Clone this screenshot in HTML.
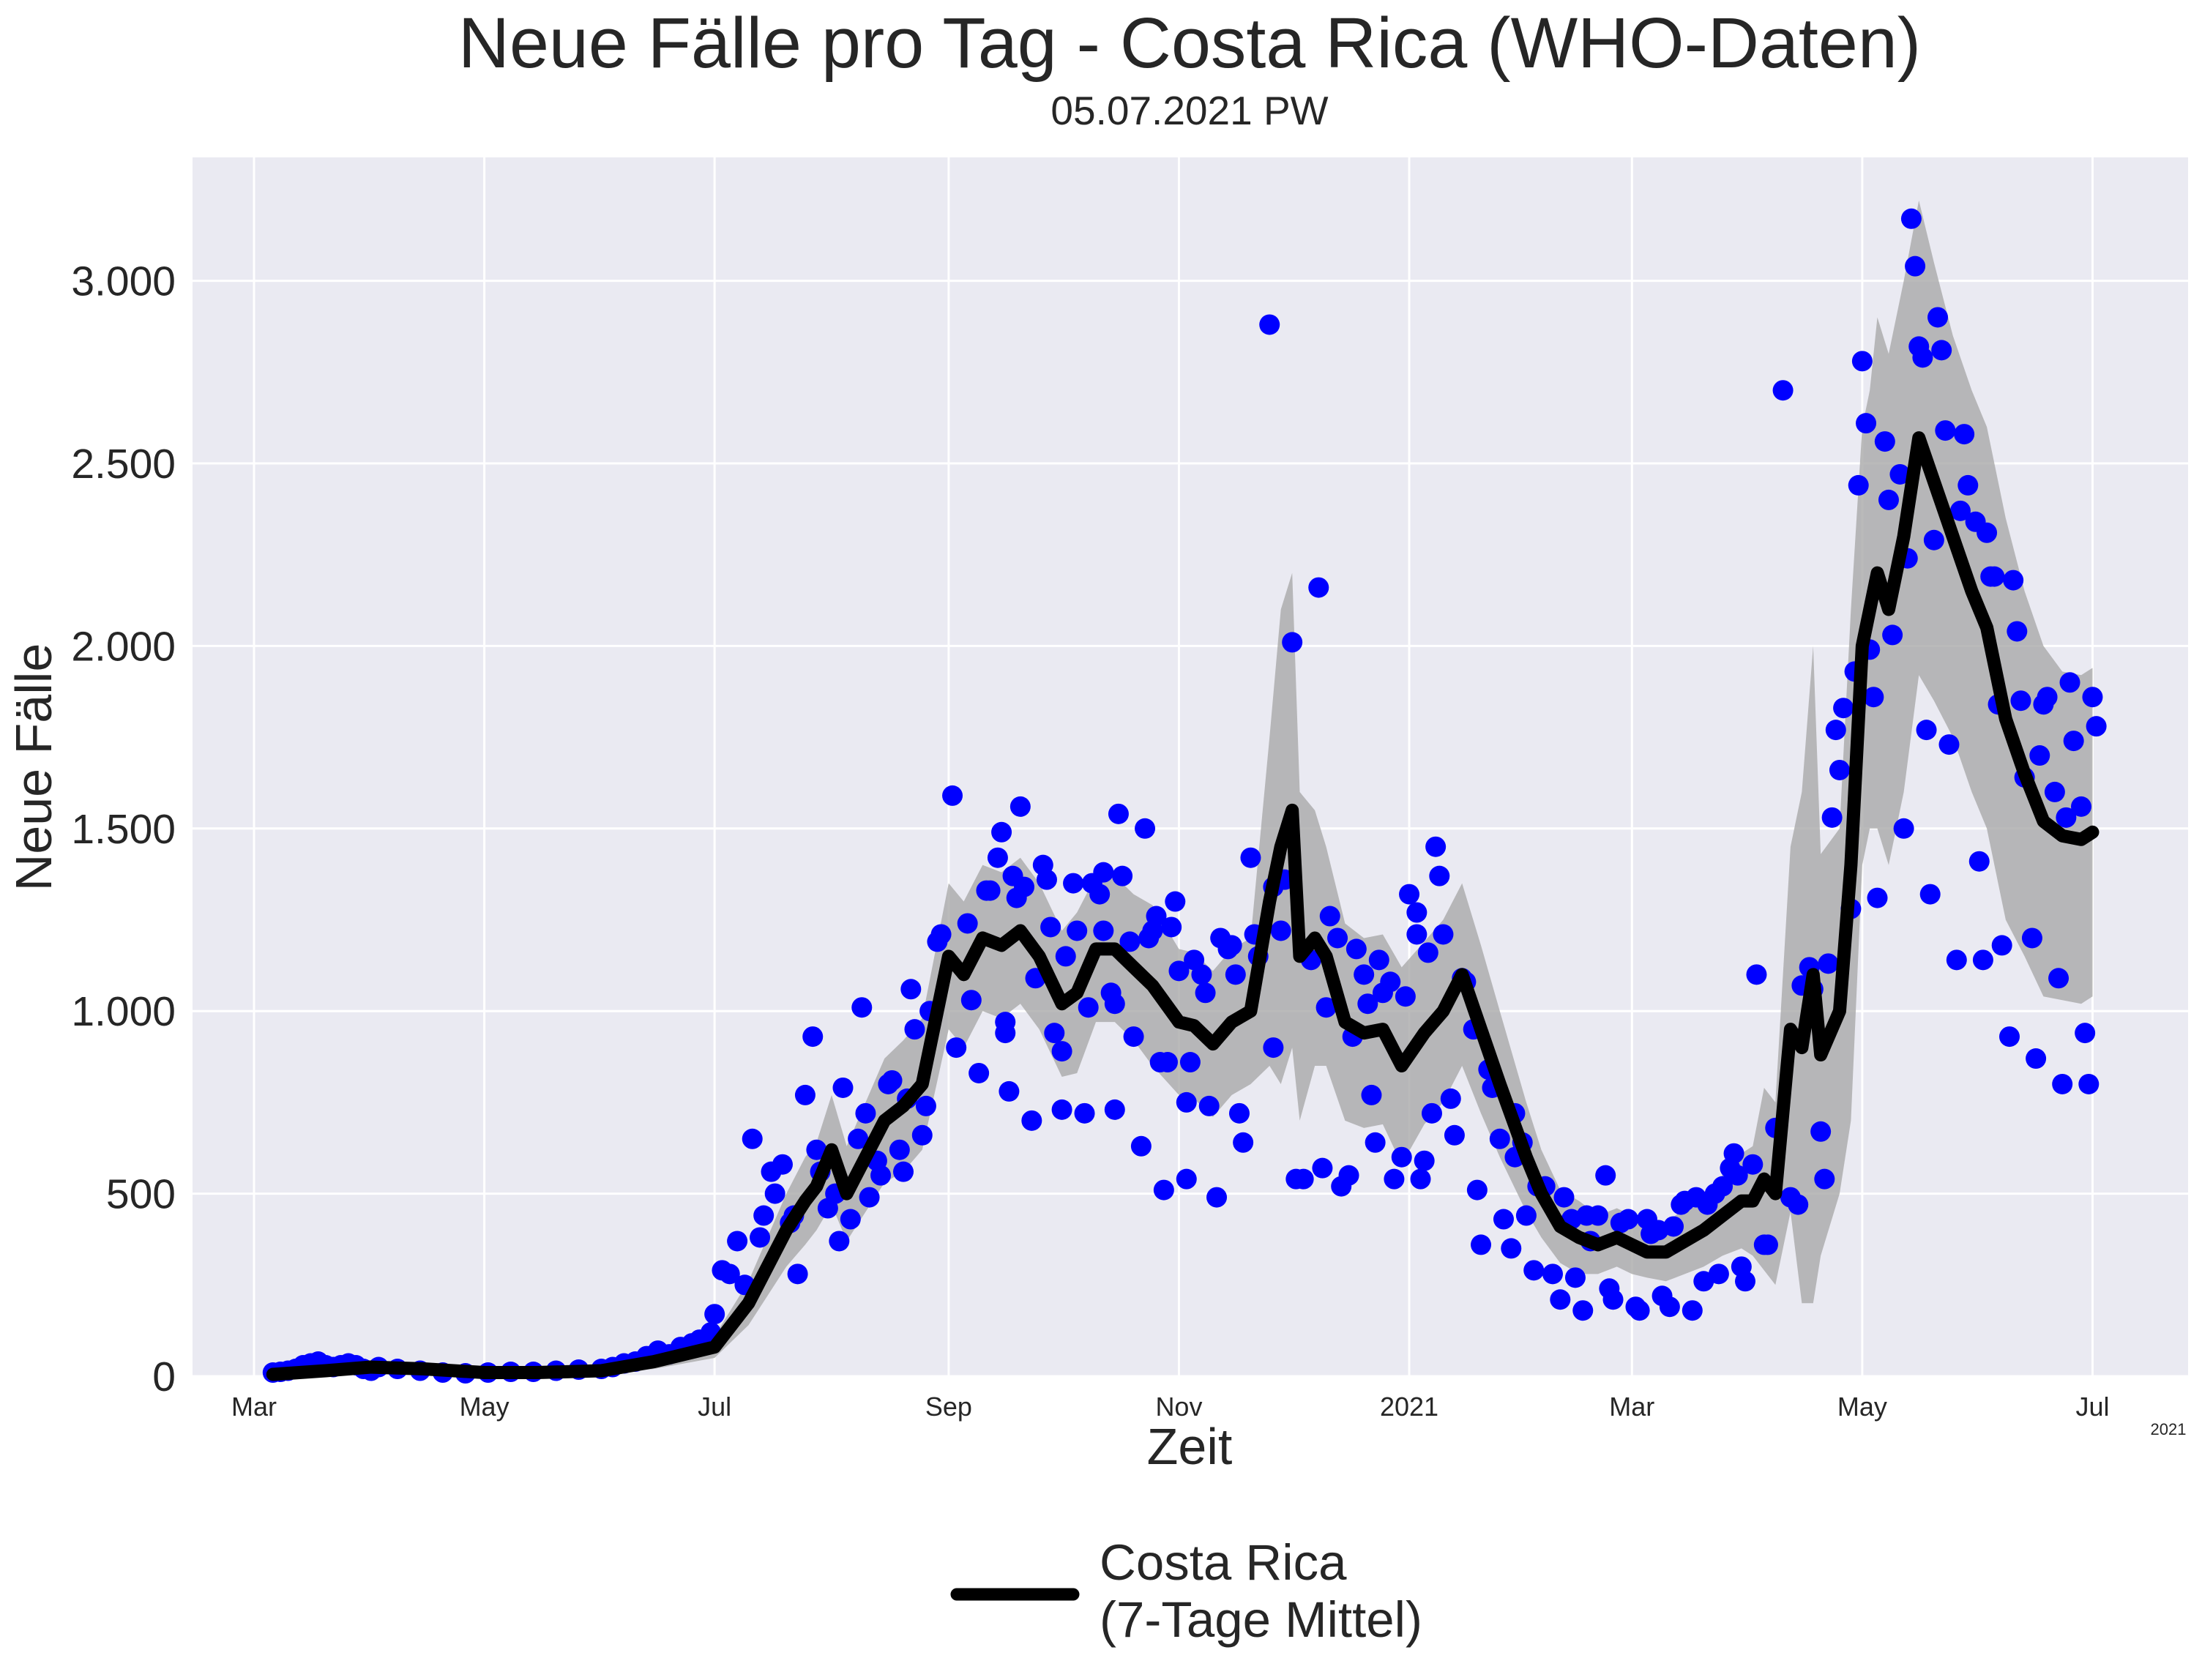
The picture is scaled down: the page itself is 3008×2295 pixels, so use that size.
<!DOCTYPE html>
<html><head><meta charset="utf-8">
<style>
html,body{margin:0;padding:0;background:#fff;}
svg{display:block;}
text{font-family:"Liberation Sans",sans-serif;fill:#262626;}
</style></head>
<body>
<svg id="chart" width="3008" height="2295" viewBox="0 0 3008 2295" xmlns="http://www.w3.org/2000/svg">
<rect x="263" y="215" width="2726" height="1665" fill="#eaeaf2"/>
<g id="grid"></g>
<g id="band"></g>
<g id="dots"></g>
<g id="line"></g>
<g id="axes"></g>
<text x="1625" y="92" font-size="97" text-anchor="middle">Neue Fälle pro Tag - Costa Rica (WHO-Daten)</text>
<text x="1625" y="170" font-size="55" text-anchor="middle">05.07.2021 PW</text>
<text x="1625" y="2000" font-size="70" text-anchor="middle">Zeit</text>
<text x="0" y="0" font-size="70" text-anchor="middle" transform="translate(70,1048) rotate(-90)">Neue Fälle</text>
<text x="2962" y="1960" font-size="22" text-anchor="middle">2021</text>
<g>
<line x1="1307" y1="2178" x2="1466" y2="2178" stroke="#000" stroke-width="17" stroke-linecap="round"/>
<text x="1502" y="2158" font-size="69">Costa Rica</text>
<text x="1502" y="2236" font-size="69">(7-Tage Mittel)</text>
</g>
</svg>
<script>
const meanDates=["2020-03-06","2020-03-20","2020-04-01","2020-04-15","2020-05-01","2020-05-15","2020-06-01","2020-06-15","2020-07-01","2020-07-10","2020-07-20","2020-07-25","2020-07-28","2020-08-01","2020-08-05","2020-08-10","2020-08-15","2020-08-20","2020-08-25","2020-09-01","2020-09-05","2020-09-10","2020-09-15","2020-09-20","2020-09-25","2020-10-01","2020-10-05","2020-10-10","2020-10-15","2020-10-20","2020-10-25","2020-11-01","2020-11-05","2020-11-10","2020-11-15","2020-11-20","2020-11-25","2020-11-28","2020-12-01","2020-12-03","2020-12-07","2020-12-10","2020-12-15","2020-12-20","2020-12-25","2020-12-30","2021-01-05","2021-01-10","2021-01-15","2021-01-20","2021-01-25","2021-02-01","2021-02-05","2021-02-10","2021-02-15","2021-02-20","2021-02-25","2021-03-01","2021-03-05","2021-03-10","2021-03-15","2021-03-20","2021-03-25","2021-03-30","2021-04-02","2021-04-05","2021-04-08","2021-04-12","2021-04-15","2021-04-18","2021-04-20","2021-04-25","2021-04-28","2021-05-01","2021-05-03","2021-05-05","2021-05-08","2021-05-12","2021-05-16","2021-05-20","2021-05-25","2021-05-30","2021-06-03","2021-06-08","2021-06-13","2021-06-18","2021-06-23","2021-06-28","2021-07-01"];
const meanValues=[5,15,25,20,10,10,15,40,80,200,400,480,520,620,500,600,700,740,800,1150,1100,1200,1180,1220,1150,1020,1050,1170,1170,1120,1070,970,960,910,970,1000,1300,1450,1550,1150,1200,1150,970,940,950,850,940,1000,1100,950,800,600,500,410,380,360,380,360,340,340,370,400,440,480,480,540,500,950,900,1100,880,1000,1400,2000,2100,2200,2100,2300,2570,2450,2300,2150,2050,1800,1650,1520,1480,1470,1490];
const sdValues=[5,10,15,10,8,8,10,20,30,60,100,120,120,150,130,150,170,180,180,200,200,200,200,200,200,200,220,200,200,200,220,200,200,200,200,200,450,650,650,450,350,300,270,260,260,270,250,250,250,230,200,150,120,100,100,80,80,80,70,80,90,100,110,130,150,250,250,500,700,900,550,500,700,600,600,700,700,700,650,600,550,550,550,550,500,480,450,450,450];
// days since 2020-03-01
const dotDays=[5,7,9,11,13,15,17,19,21,23,25,27,29,31,33,38,44,50,56,62,68,74,80,86,92,95,98,101,104,107,110,113,116,118,121,122,124,126,128,130,132,134,135,137,138,140,142,143,144,146,148,149,150,152,154,155,156,158,160,161,162,163,165,166,168,169,171,172,173,174,175,177,178,179,181,182,185,186,189,190,192,194,195,197,198,199,199,200,201,202,203,204,206,207,209,210,211,212,214,214,215,217,218,220,221,222,224,225,225,227,228,228,229,230,232,233,235,236,237,238,239,240,241,242,243,244,245,247,247,248,249,251,252,253,255,256,258,259,260,261,262,264,265,266,269,270,270,272,273,275,276,278,280,282,283,284,285,287,288,290,291,292,294,295,296,297,298,299,301,302,304,305,306,308,308,309,310,311,312,313,314,315,317,318,320,321,323,324,325,327,328,330,331,333,334,334,336,337,339,340,342,344,346,347,349,350,352,353,354,356,358,359,360,362,364,366,367,369,370,372,373,375,376,378,379,381,382,384,385,387,388,389,391,392,393,394,395,397,398,400,401,403,405,407,409,410,412,413,415,416,417,418,419,420,421,423,424,425,426,427,428,429,430,432,433,434,436,437,438,439,440,441,442,443,444,445,446,447,448,449,451,452,453,454,456,457,458,459,460,461,462,463,465,466,467,468,469,471,472,473,474,475,477,478,479,480,481,482,484,485,486,487,488];
const dotValues=[10,12,15,20,30,35,40,30,25,30,35,30,20,15,25,20,15,10,8,10,12,12,15,18,20,25,35,40,55,70,60,80,90,100,120,170,290,280,370,250,650,380,440,560,500,580,420,440,280,770,930,620,560,460,500,370,790,430,650,1010,720,490,590,550,800,810,620,560,760,1060,950,660,740,1000,1190,1210,1590,900,1240,1030,830,1330,1330,1420,1490,970,940,780,1370,1310,1560,1340,700,1090,1400,1360,1230,940,730,890,1150,1350,1220,720,1010,1350,1320,1220,1380,1050,730,1020,1540,1370,1190,930,630,1500,1200,1220,1260,860,510,860,1230,1300,1110,750,540,860,1140,1100,1050,740,490,1200,1170,1180,1100,720,640,1420,1210,1150,2880,900,1340,1220,1360,2010,540,540,1140,2160,570,1010,1260,1200,520,550,930,1170,1100,1020,770,640,1140,1050,1080,540,600,1040,1320,1210,1270,540,590,1160,720,1450,1370,1210,760,660,1090,1080,950,510,360,840,790,650,430,350,720,600,640,440,290,520,520,280,210,490,430,270,180,440,370,440,550,240,210,420,430,190,180,430,390,400,220,190,410,470,480,180,490,260,470,500,280,520,570,610,550,300,260,580,1100,360,360,680,2700,490,470,1070,1120,1060,670,540,1130,1530,1770,1660,1830,1280,1930,2440,2780,2610,1990,1860,1310,2560,2400,2030,2470,1500,2240,3170,3040,2820,2790,1770,1320,2290,2900,2810,2590,1730,1140,2370,2580,2440,2340,1410,1140,2310,2190,2190,1840,1180,930,2180,2040,1850,1640,1200,870,1700,1840,1860,1600,1090,800,1530,1900,1740,1560,940,800,1860,1780];
const yTicks=[0,500,1000,1500,2000,2500,3000];
const yTickLabels=["0","500","1.000","1.500","2.000","2.500","3.000"];
const xTickDates=["2020-03-01","2020-05-01","2020-07-01","2020-09-01","2020-11-01","2021-01-01","2021-03-01","2021-05-01","2021-07-01"];
const xTickLabels=["Mar","May","Jul","Sep","Nov","2021","Mar","May","Jul"];

const NS="http://www.w3.org/2000/svg";
const T0=Date.UTC(2020,2,1);
function dayOf(s){const p=s.split('-');return (Date.UTC(+p[0],+p[1]-1,+p[2])-T0)/86400000;}
function XD(d){return 347+d*5.157;}
function X(s){return XD(dayOf(s));}
function Y(v){return 1880-v*0.4988;}
function mk(tag,attrs,parent){const e=document.createElementNS(NS,tag);for(const k in attrs)e.setAttribute(k,attrs[k]);parent.appendChild(e);return e;}
const grid=document.getElementById('grid'),axes=document.getElementById('axes');
yTicks.forEach((v,i)=>{
  const l=mk('line',{x1:263,x2:2989,y1:Y(v),y2:Y(v),stroke:'#fff','stroke-width':3},grid);
  
  
  const t=mk('text',{x:240,y:Y(v)+20,'font-size':57,'text-anchor':'end'},axes);
  t.textContent=yTickLabels[i];
  
  
});
xTickDates.forEach((d,i)=>{
  const l=mk('line',{x1:X(d),x2:X(d),y1:215,y2:1880,stroke:'#fff','stroke-width':3},grid);
  
  
  const t=mk('text',{x:X(d),y:1934,'font-size':36,'text-anchor':'middle'},axes);
  t.textContent=xTickLabels[i];
  
  
});
let up=[],lo=[];
meanDates.forEach((d,i)=>{up.push(X(d)+','+Y(meanValues[i]+sdValues[i]));lo.unshift(X(d)+','+Y(Math.max(0,meanValues[i]-sdValues[i])));});
const band=mk('polygon',{points:up.concat(lo).join(' '),fill:'#a9a9a9','fill-opacity':0.8},document.getElementById('band'));


const dots=document.getElementById('dots');
dotDays.forEach((d,i)=>{
  const c=mk('circle',{cx:XD(d),cy:Y(dotValues[i]),r:14,fill:'#0000ff'},dots);
  
  
});
const pl=mk('polyline',{points:meanDates.map((d,i)=>X(d)+','+Y(meanValues[i])).join(' '),fill:'none',stroke:'#000','stroke-width':18,'stroke-linejoin':'round','stroke-linecap':'round'},document.getElementById('line'));


</script>
</body></html>
